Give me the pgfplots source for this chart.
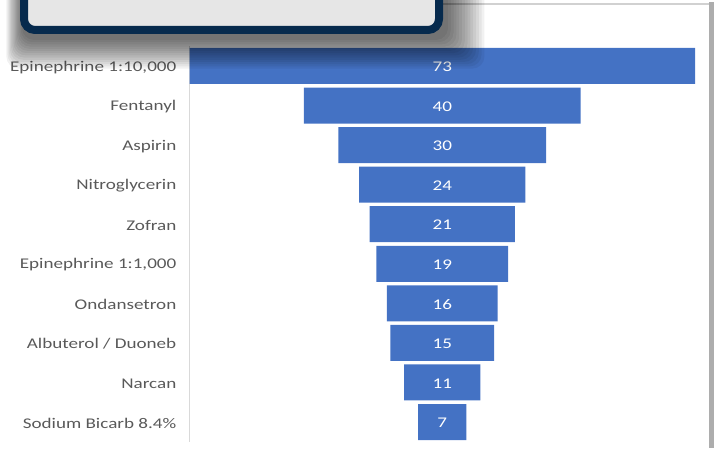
\documentclass[border=0pt]{standalone}
\usepackage{pgfplots}
\pgfplotsset{compat=1.18}
\usepackage{pgfplotstable}
\usepackage{fontspec}
\setmainfont{Carlito}[FakeStretch=1.29]

\definecolor{barblue}{HTML}{4472C4}
\definecolor{labelgray}{HTML}{595959}
\definecolor{boxnavy}{HTML}{062A4D}
\definecolor{boxfill}{HTML}{E6E6E6}

% row, count, offset that centres the bar ((73 - v)/2), centre of funnel
\pgfplotstableread{
row v off mid
0 73 0 36.5
1 40 16.5 36.5
2 30 21.5 36.5
3 24 24.5 36.5
4 21 26 36.5
5 19 27 36.5
6 16 28.5 36.5
7 15 29 36.5
8 11 31 36.5
9 7 33 36.5
}\funneldata

\pgfplotsset{
  funnelgeom/.style={
    at={(189.5pt,6.2pt)},
    anchor=south west,
    scale only axis,
    width=505.5pt,
    height=395.6pt,
    xmin=0, xmax=73,
    ymin=-0.5, ymax=9.5,
    y dir=reverse,
    clip=false,
  },
}

\begin{document}
\begin{tikzpicture}[x=1pt,y=1pt]
\useasboundingbox (0,0) rectangle (714,448);
\clip (0,0) rectangle (714,448);

% panel edge and shadow on the right
\fill[black!32] (709,0) rectangle (714,446);
\draw[black!18, line width=1.2] (440,444) -- (709,444);

\begin{axis}[
    funnelgeom,
    xbar stacked,
    bar width=36pt,
    hide x axis,
    axis y line*=left,
    y axis line style={black!15, line width=1pt},
    major tick length=0pt,
    ytick={0,...,9},
    yticklabels={{Epinephrine 1:10,000},Fentanyl,Aspirin,Nitroglycerin,Zofran,{Epinephrine 1:1,000},Ondansetron,{Albuterol / Duoneb},Narcan,{Sodium Bicarb 8.4\%}},
    yticklabel style={font=\fontsize{14.8}{17}\selectfont, text=labelgray, anchor=east, inner sep=0pt, xshift=-13pt, yshift=-1.2pt},
  ]
  % invisible offset
  \addplot[draw=none, fill=none, forget plot] table[x=off, y=row] {\funneldata};
  % visible funnel bars
  \addplot[fill=barblue, draw=none] table[x=v, y=row] {\funneldata};
\end{axis}

% value labels at the centre of each bar
\begin{axis}[funnelgeom, hide axis]
  \addplot[
      draw=none, mark=none,
      nodes near coords,
      point meta=explicit symbolic,
      every node near coord/.append style={
          font=\fontsize{14.8}{17}\selectfont, text=white, anchor=center, yshift=-0.8pt},
    ] table[x=mid, y=row, meta=v] {\funneldata};
\end{axis}

% shadow of the overlaid box
\foreach \k in {0,...,13} {
  \fill[black, opacity=0.055, rounded corners=12] ({22-1.2*\k},{408-2.2*\k}) rectangle ({448+2.8*\k},470);
}
\draw[boxnavy, fill=boxfill, line width=8, rounded corners=11] (24,418) rectangle (439,480);
\end{tikzpicture}
\end{document}
